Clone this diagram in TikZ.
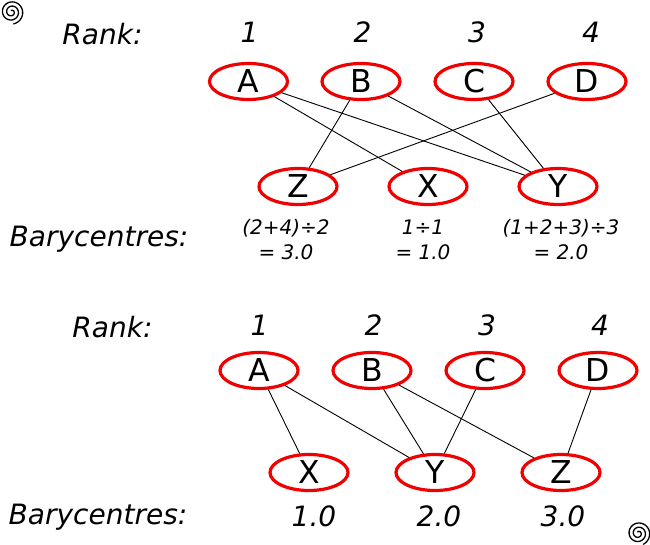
\documentclass[tikz,border=0pt]{standalone}
\usepackage{fontspec}
\setmainfont{DejaVu Sans}
\usetikzlibrary{shapes.geometric}
\definecolor{redline}{RGB}{240,0,0}
\tikzset{
  x=1pt,y=-1pt,
  vertex/.style={ellipse,draw=redline,line width=3.2pt,minimum width=78pt,minimum height=36pt,inner sep=0pt,text height=22.5pt,text depth=0pt,font=\fontsize{31.5}{32}\selectfont,text=black},
  edge/.style={draw=black,line width=0.9pt},
  head/.style={anchor=base,inner sep=0pt,font=\fontsize{28}{30}\selectfont\itshape},
  rank/.style={anchor=base,inner sep=0pt,font=\fontsize{28}{30}\selectfont\itshape},
  calc/.style={anchor=base,inner sep=0pt,font=\fontsize{20}{24}\selectfont\itshape,align=center},
  val/.style={anchor=base,inner sep=0pt,font=\fontsize{28}{30}\selectfont\itshape},
  spiral/.style={draw=black,line width=1.3pt,line cap=round,smooth},
}
\begin{document}
\begin{tikzpicture}
\useasboundingbox (0,0) rectangle (650,545);
% top
\node[head] (r1) at (102.5,44.7) {Rank:};
\foreach \n/\t/\x in {r1a/1/249.5,r1b/2/362.5,r1c/3/477,r1d/4/591}
  \node[rank] (\n) at (\x,42.7) {\t};
\node[vertex] (A) at (248.5,81.5) {A};
\node[vertex] (B) at (361,81.5) {B};
\node[vertex] (C) at (474,81.5) {C};
\node[vertex] (D) at (587,81.5) {D};
\node[vertex] (Z) at (298,186.5) {Z};
\node[vertex] (X) at (428,186.5) {X};
\node[vertex] (Y) at (558,186.5) {Y};
\draw[edge] (A) -- (X);
\draw[edge] (A) -- (Y);
\draw[edge] (B) -- (Z);
\draw[edge] (B) -- (Y);
\draw[edge] (C) -- (Y);
\draw[edge] (D) -- (Z);
\node[head] (b1) at (99,247) {Barycentres:};
\node[calc] (c1a) at (286,235) {(2+4)÷2};
\node[calc] (c1b) at (286,259) {= 3.0};
\node[calc] (c2a) at (423,235) {1÷1};
\node[calc] (c2b) at (423,259) {= 1.0};
\node[calc] (c3a) at (561,235) {(1+2+3)÷3};
\node[calc] (c3b) at (561,259) {= 2.0};
% bottom
\node[head] (r2) at (112.5,337.7) {Rank:};
\foreach \n/\t/\x in {r2a/1/259.5,r2b/2/373.5,r2c/3/487,r2d/4/600}
  \node[rank] (\n) at (\x,335.7) {\t};
\node[vertex] (A2) at (259,370.5) {A};
\node[vertex] (B2) at (372,370.5) {B};
\node[vertex] (C2) at (485,370.5) {C};
\node[vertex] (D2) at (598,370.5) {D};
\node[vertex] (X2) at (309,472.5) {X};
\node[vertex] (Y2) at (435,472.5) {Y};
\node[vertex] (Z2) at (561,472.5) {Z};
\draw[edge] (A2) -- (X2);
\draw[edge] (A2) -- (Y2);
\draw[edge] (B2) -- (Y2);
\draw[edge] (B2) -- (Z2);
\draw[edge] (C2) -- (Y2);
\draw[edge] (D2) -- (Z2);
\node[head] (b2) at (98,524.5) {Barycentres:};
\node[val] (v1) at (314,526.5) {1.0};
\node[val] (v2) at (439,526.5) {2.0};
\node[val] (v3) at (563,526.5) {3.0};
% spirals
\draw[spiral] plot[domain=0:900,samples=100] ({11.5+(1.5+\x/85)*cos(\x+260)},{12+(1.5+\x/85)*sin(\x+260)});
\draw[spiral] plot[domain=0:900,samples=100] ({638.3+(1.5+\x/85)*cos(\x+245)},{533.3+(1.5+\x/85)*sin(\x+245)});
\end{tikzpicture}
\end{document}
